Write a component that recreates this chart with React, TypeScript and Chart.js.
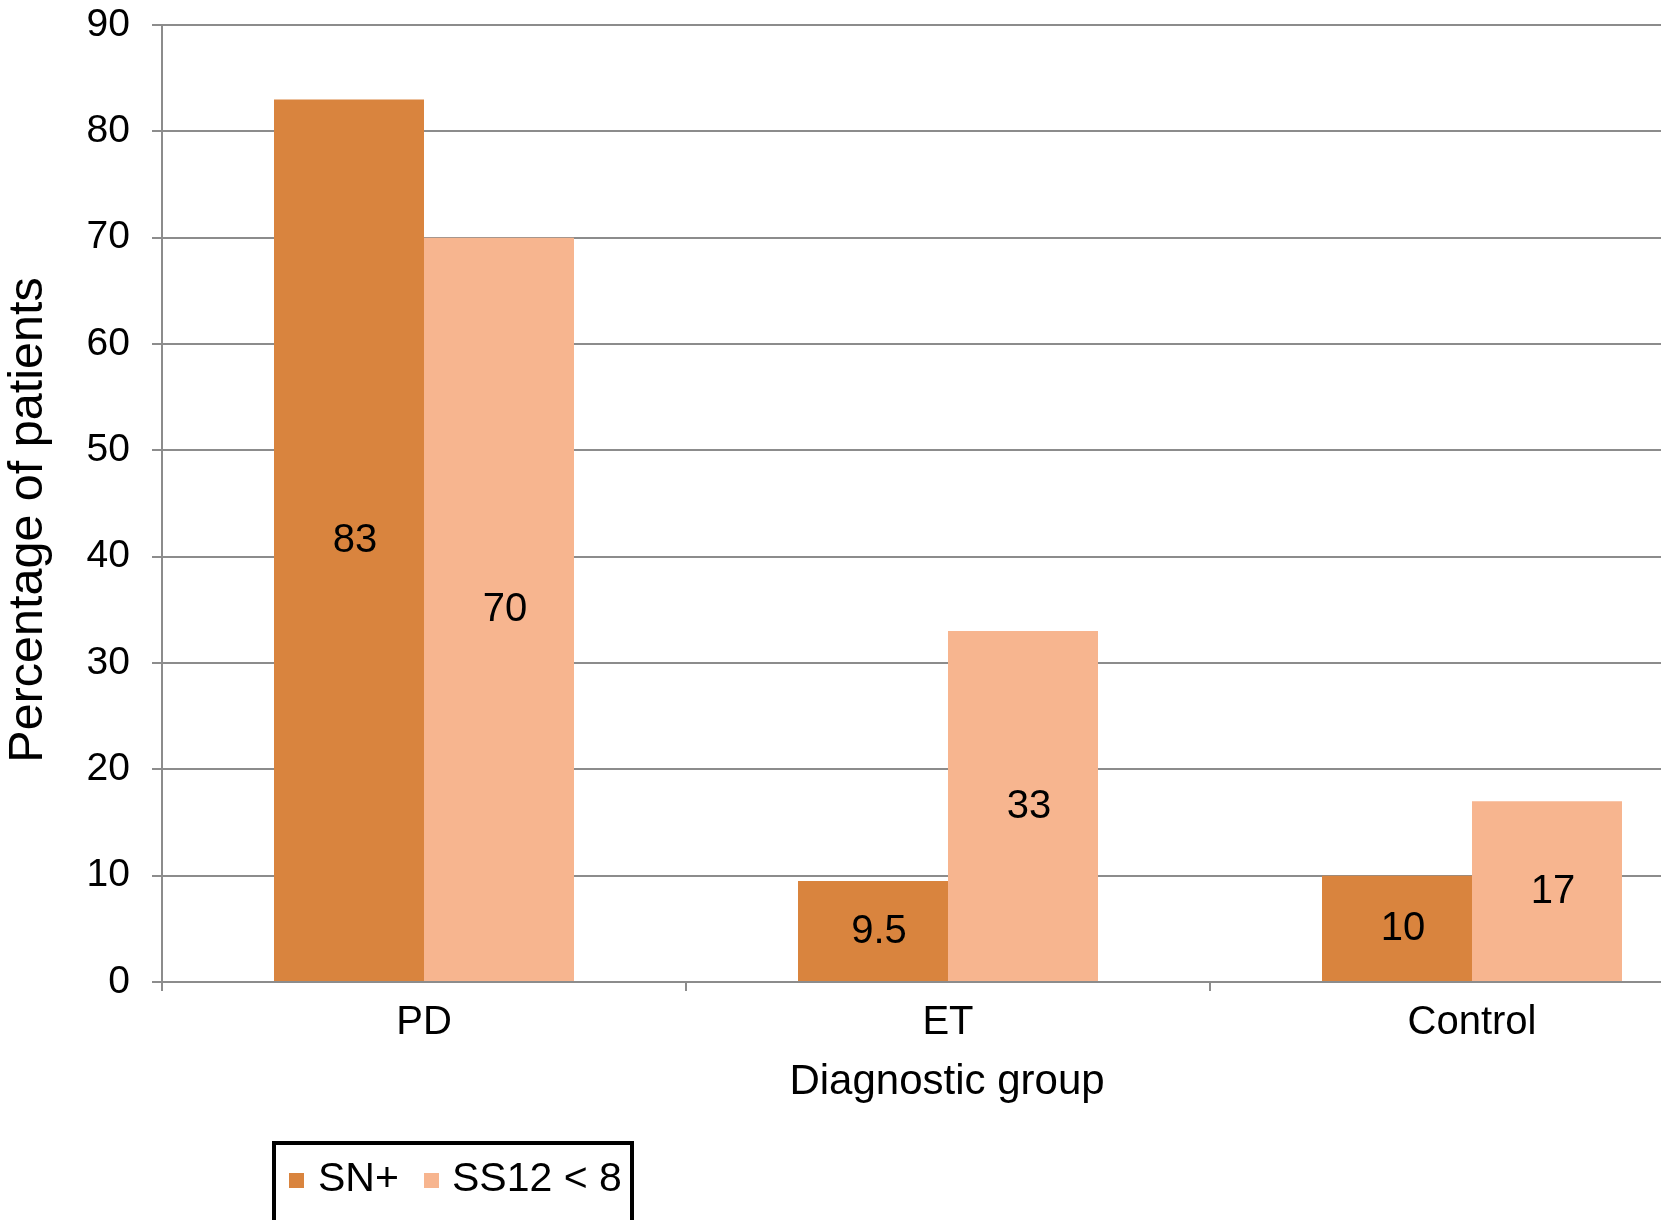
import React, { useEffect, useRef } from "react";
import { Chart, registerables } from "chart.js";

Chart.register(...registerables);

const categories = ["PD", "ET", "Control"];
const snPlus = [83, 9.5, 10];
const ss12 = [70, 33, 17];
const seriesLabels = ["SN+", "SS12 < 8"];
const seriesColors = ["#D9843E", "#F7B58F"];
const yTicksMax = 90;
const yStep = 10;
const xTitle = "Diagnostic group";
const yTitle = "Percentage of patients";

const FONT = "'Liberation Sans', Arial, Helvetica, sans-serif";
const GRID = "#8C8C8C";

const labelsPlugin = {
  id: "barValueLabels",
  afterDatasetsDraw(chart: any) {
    const ctx = chart.ctx;
    ctx.save();
    ctx.font = `40px ${FONT}`;
    ctx.fillStyle = "#000";
    ctx.textAlign = "center";
    ctx.textBaseline = "middle";
    chart.data.datasets.forEach((ds: any, di: number) => {
      const meta = chart.getDatasetMeta(di);
      meta.data.forEach((el: any, i: number) => {
        const y = (el.y + el.base) / 2;
        ctx.fillText(String(ds.data[i]), el.x + 6, y + 1);
      });
    });
    ctx.restore();
  },
};

const decorPlugin = {
  id: "decor",
  afterDraw(chart: any) {
    const ctx = chart.ctx;
    ctx.save();
    // y title
    ctx.font = `48.5px ${FONT}`;
    ctx.fillStyle = "#000";
    ctx.textAlign = "center";
    ctx.textBaseline = "middle";
    ctx.save();
    ctx.translate(29, 520);
    ctx.rotate(-Math.PI / 2);
    ctx.fillText(yTitle, 0, 0);
    ctx.restore();
    // x title
    ctx.font = `42px ${FONT}`;
    ctx.fillText(xTitle, 947, 1082);
    // legend
    const bx = 274, by = 1143, bw = 358, bh = 80;
    ctx.lineWidth = 4;
    ctx.strokeStyle = "#000";
    ctx.strokeRect(bx, by, bw, bh);
    ctx.font = `41px ${FONT}`;
    ctx.textAlign = "left";
    const items = [
      { sq: 289, tx: 318 },
      { sq: 424, tx: 452 },
    ];
    chart.data.datasets.forEach((ds: any, i: number) => {
      ctx.fillStyle = ds.backgroundColor;
      ctx.fillRect(items[i].sq, 1173, 15, 15);
      ctx.fillStyle = "#000";
      ctx.fillText(ds.label, items[i].tx, 1180);
    });
    ctx.restore();
  },
};

export default function App() {
  const ref = useRef<HTMLCanvasElement | null>(null);
  useEffect(() => {
    if (!ref.current) return;
    Chart.defaults.font.family = FONT;
    const chart = new Chart(ref.current, {
      type: "bar",
      data: {
        labels: categories,
        datasets: [
          { label: seriesLabels[0], data: snPlus, backgroundColor: seriesColors[0], borderWidth: 0 },
          { label: seriesLabels[1], data: ss12, backgroundColor: seriesColors[1], borderWidth: 0 },
        ],
      },
      options: {
        responsive: false,
        animation: false,
        devicePixelRatio: 1,
        layout: { padding: { top: 25, left: 0, right: 2, bottom: 0 } },
        plugins: {
          legend: { display: false },
          tooltip: { enabled: false },
          title: { display: false },
        },
        datasets: {
          bar: { barPercentage: 1, categoryPercentage: 0.5725 },
        },
        scales: {
          x: {
            afterFit(scale: any) {
              scale.height = 238;
            },
            grid: {
              display: true,
              drawOnChartArea: false,
              drawTicks: true,
              tickLength: 9,
              color: GRID,
              lineWidth: 2,
              offset: true,
            },
            border: { display: true, color: GRID, width: 2 },
            ticks: {
              font: { size: 40, family: FONT },
              color: "#000",
              padding: 8,
              maxRotation: 0,
            },
          },
          y: {
            min: 0,
            max: yTicksMax,
            afterFit(scale: any) {
              scale.width = 162;
              scale.paddingTop = 0;
              scale.paddingBottom = 0;
            },
            grid: {
              color: GRID,
              lineWidth: 2,
              drawTicks: true,
              tickLength: 10,
            },
            border: { display: true, color: GRID, width: 2 },
            ticks: {
              stepSize: yStep,
              font: { size: 39, family: FONT },
              color: "#000",
              padding: 22,
            },
          },
        },
      },
      plugins: [labelsPlugin, decorPlugin],
    });
    return () => chart.destroy();
  }, []);
  return (
    <div
      style={{
        position: "fixed",
        left: 0,
        top: 0,
        width: 1661,
        height: 1220,
        overflow: "hidden",
        background: "#fff",
      }}
    >
      <canvas ref={ref} width={1736} height={1220} style={{ display: "block" }} />
    </div>
  );
}
